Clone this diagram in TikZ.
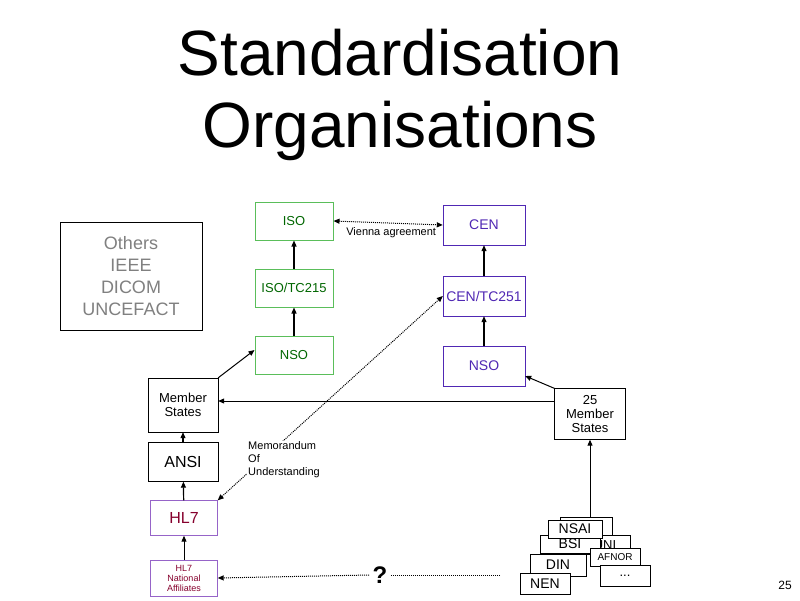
\documentclass[tikz,border=0pt]{standalone}
\usepackage{fontspec}
\setmainfont{Liberation Sans}
\usetikzlibrary{arrows.meta}
\definecolor{gr}{RGB}{90,190,90}
\definecolor{bl}{RGB}{80,40,180}
\definecolor{pu}{RGB}{150,100,200}
\begin{document}
\begin{tikzpicture}[x=1pt,y=-1pt,
 box/.style={draw=black,fill=white,inner sep=0pt,font=\fontsize{13}{14}\selectfont,align=center},
 gbox/.style={box,draw=gr,line width=1pt,text=green!40!black},
 bbox/.style={box,draw=bl,text=bl,font=\fontsize{14}{15}\selectfont},
 pbox/.style={box,draw=pu,text=purple!70!black},
 ar/.style={-{Triangle[length=6pt,width=5pt]},line width=1.2pt},
 dar/.style={{Triangle[length=6pt,width=5pt]}-{Triangle[length=6pt,width=5pt]},densely dotted,line width=1pt},
 lab/.style={font=\fontsize{11}{13}\selectfont,align=left}]
\useasboundingbox (0,0) rectangle (800,600);
\node[font=\fontsize{64}{72}\selectfont,align=center] (title) at (400,95) {Standardisation\\Organisations};
\node[box,draw=black,text=gray,minimum width=142pt,minimum height=108pt,font=\fontsize{18}{22}\selectfont] (oth) at (131,276) {Others\\IEEE\\DICOM\\UNCEFACT};
\node[gbox,minimum width=78pt,minimum height=38pt] (iso) at (294,221) {ISO};
\node[gbox,minimum width=78pt,minimum height=38pt] (isotc) at (294,288) {ISO/TC215};
\node[gbox,minimum width=78pt,minimum height=38pt] (nsog) at (294,355) {NSO};
\node[bbox,minimum width=82pt,minimum height=40pt] (cen) at (484,225) {CEN};
\node[bbox,minimum width=82pt,minimum height=40pt] (centc) at (484,296) {CEN/TC251};
\node[bbox,minimum width=82pt,minimum height=40pt] (nsob) at (484,366) {NSO};
\node[box,minimum width=70pt,minimum height=54pt] (ms) at (183,405) {Member\\States};
\node[box,minimum width=71pt,minimum height=51pt] (ms25) at (590,414) {25\\Member\\States};
\node[box,minimum width=70pt,minimum height=39pt,font=\fontsize{16}{17}\selectfont] (ansi) at (183,462) {ANSI};
\node[pbox,minimum width=67pt,minimum height=35pt,font=\fontsize{16}{17}\selectfont] (hl7) at (184,518) {HL7};
\node[pbox,minimum width=67pt,minimum height=36pt,font=\fontsize{9}{10}\selectfont] (hl7na) at (184,578) {HL7\\National\\Affiliates};
% stack
\node[box,minimum width=52pt,minimum height=18pt] (s0) at (586,526) {};
\node[box,minimum width=50pt,minimum height=19pt] (uni) at (605,545) {UNI};
\node[box,minimum width=60pt,minimum height=18pt,font=\fontsize{14}{15}\selectfont] (bsi) at (570,544) {BSI};
\node[box,minimum width=54pt,minimum height=18pt,font=\fontsize{14}{15}\selectfont] (nsai) at (575,529) {NSAI};
\node[box,minimum width=50pt,minimum height=18pt,font=\fontsize{10}{11}\selectfont] (afnor) at (615,557) {AFNOR};
\node[box,minimum width=56pt,minimum height=22pt,font=\fontsize{14}{15}\selectfont] (din) at (558,565) {DIN};
\node[box,minimum width=50pt,minimum height=21pt] (dots) at (625,576) {...};
\node[box,minimum width=50pt,minimum height=21pt,font=\fontsize{14}{15}\selectfont] (nen) at (545,584) {NEN};
\coordinate (q) at (500,575);
\node[font=\bfseries\fontsize{24}{24}\selectfont] (qm) at (380,575) {?};
\node[font=\fontsize{12}{12}\selectfont] (pg) at (785,585) {25};
% arrows
\draw[ar] (nsog) -- (isotc);
\draw[ar] (isotc) -- (iso);
\draw[ar] (nsob) -- (centc);
\draw[ar] (centc) -- (cen);
\draw[ar,line width=1pt] (ms.north east) -- (nsog.south west |- 0,350);
\draw[ar,line width=1pt] (ms25.north west) -- (nsob.south east |- 0,376);
\draw[ar,line width=1pt] (ms25.west |- 0,401) -- (ms.east |- 0,401);
\draw[ar] (ansi) -- (ms);
\draw[ar] (hl7) -- (ansi);
\draw[ar,line width=1pt] (hl7na) -- (hl7);
\draw[ar,line width=1pt] (s0.north -| ms25) -- (ms25);
\draw[dar] (iso.east) -- node[lab,below=1pt,xshift=3pt]{Vienna agreement} (cen.west);
\draw[dar] (hl7.north east) -- (centc.west);
\node[lab,fill=white,inner sep=1pt] (mou) at (284,460) {Memorandum\\Of\\Understanding};
\draw[densely dotted,line width=1pt] (q) -- (qm.east);
\draw[-{Triangle[length=6pt,width=5pt]},densely dotted,line width=1pt] (qm.west) -- (hl7na.east);
\end{tikzpicture}
\end{document}
